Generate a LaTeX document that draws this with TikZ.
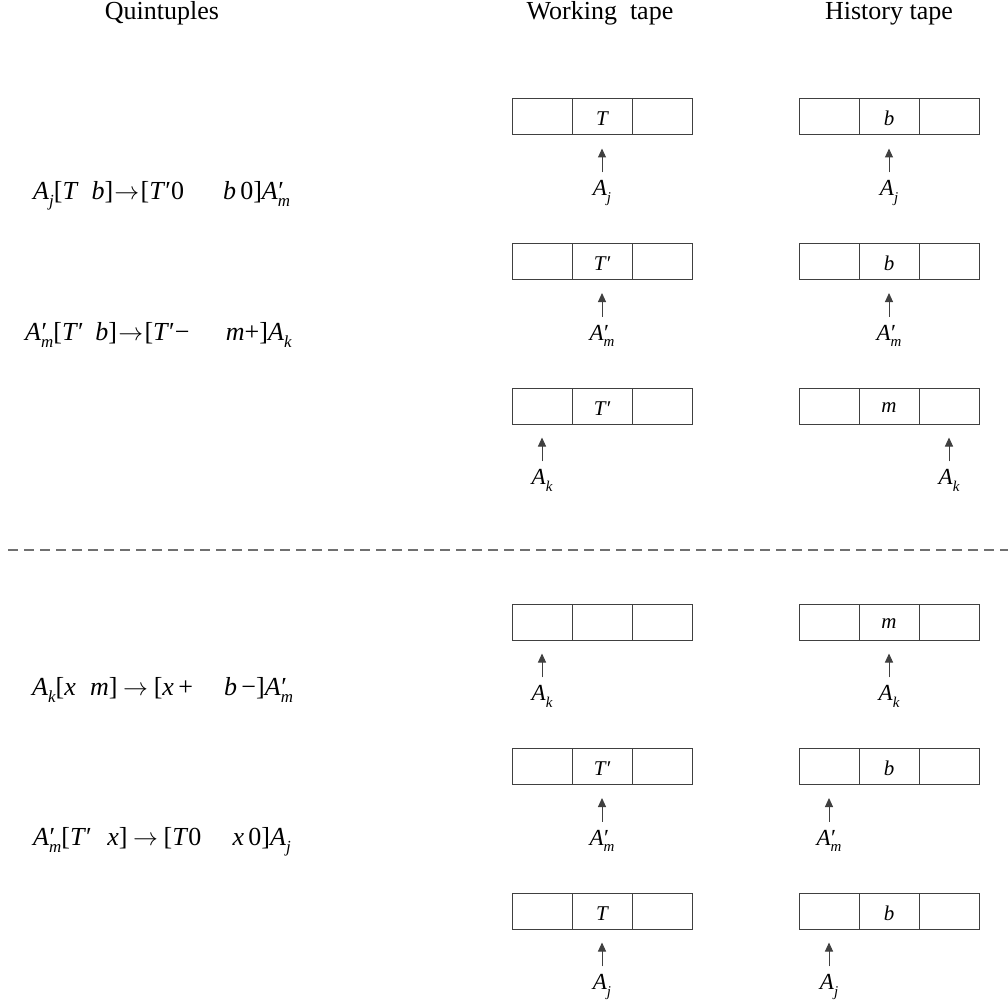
\documentclass[tikz,border=0pt]{standalone}
\usepackage{fontspec}
\setmainfont{Liberation Serif}
\usetikzlibrary{arrows.meta}
\definecolor{ink}{HTML}{404040}
\definecolor{sepgray}{HTML}{707070}

% subscript, italic, lowered
\newcommand\Sb[1]{\raisebox{-0.3em}{\fontsize{0.65em}{0.65em}\selectfont\itshape #1}}
% state names
\newcommand\Ai[1]{\textit{A}\Sb{#1}}
\newcommand\Ap[1]{\textit{A}\rlap{\kern0.02em′}\Sb{#1}}
\newcommand\Tp{\textit{T}′}
\newcommand\yields{\kern0.05em$\rightarrow$\kern0.05em}

% a tape of three cells: name, x of left cell centre, top edge, contents
\newcommand\tape[6]{%
  \node[cell] (#1a) at ({#2},{#3+18}) {#4};
  \node[cell] (#1b) at ({#2+60},{#3+18}) {#5};
  \node[cell] (#1c) at ({#2+120},{#3+18}) {#6};
}
% head label below a cell, with its arrow
\newcommand\pointer[3]{%
  \path (#2.south) ++(0,60) node[lab] (#1) {#3};
  \draw[ptr] ([yshift=7pt]#1.north) -- ([yshift=-13pt]#2.south);
}

\begin{document}
\begin{tikzpicture}[x=1pt,y=-1pt,
  cell/.style={draw=ink, line width=1pt, minimum width=60pt, minimum height=36pt,
    inner sep=0pt, text height=18pt, text depth=0pt,
    font=\fontsize{21}{21}\selectfont\itshape},
  head/.style={font=\fontsize{26}{26}\selectfont, anchor=base, inner sep=0pt},
  rule/.style={font=\fontsize{26}{26}\selectfont, anchor=base west, inner sep=0pt},
  lab/.style={font=\fontsize{23}{23}\selectfont, anchor=base, inner sep=0pt,
    text height=16pt, text depth=6pt},
  ptr/.style={draw=ink, line width=1pt, -{Triangle[length=9pt,width=8pt]}},
  sep/.style={draw=sepgray, line width=1.5pt, dash pattern=on 10pt off 6pt}
]
\useasboundingbox (0,0) rectangle (1008,1003);

% column headings
\node[head] (hq) at (162,20) {Quintuples};
\node[head] (hw) at (600,20) {Working\hspace{0.25em} tape};
\node[head] (hh) at (889,20) {History tape};

% quintuples
\node[rule] (q1) at (33,199) {\Ai{j}[\textit{T}\hspace{0.5em}\textit{b}]\yields[\Tp 0\hspace{1.5em}\textit{b}\,0]\Ap{m}};
\node[rule] (q2) at (25,340) {\Ap{m}[\Tp\hspace{0.45em}\textit{b}]\yields[\Tp−\hspace{1.4em}\textit{m}+]\Ai{k}};
\node[rule] (q3) at (32,695) {\Ai{k}[\textit{x}\hspace{0.55em}\textit{m}]\,\yields\,[\textit{x}\,+\hspace{1.2em}\textit{b}\,−]\Ap{m}};
\node[rule] (q4) at (33,845) {\Ap{m}[\Tp\hspace{0.6em}\textit{x}]\,\yields\,[\textit{T}0\hspace{1.2em}\textit{x}\,0]\Ai{j}};

% upper block
\tape{wa}{542}{99}{}{T}{}
\tape{ha}{829}{99}{}{b}{}
\pointer{la1}{wab}{\Ai{j}}
\pointer{la2}{hab}{\Ai{j}}

\tape{wb}{542}{243.5}{}{T′}{}
\tape{hb}{829}{243.5}{}{b}{}
\pointer{lb1}{wbb}{\Ap{m}}
\pointer{lb2}{hbb}{\Ap{m}}

\tape{wc}{542}{388}{}{T′}{}
\tape{hc}{829}{388}{}{\raisebox{2.5pt}{m}}{}
\pointer{lc1}{wca}{\Ai{k}}
\pointer{lc2}{hcc}{\Ai{k}}

% separator
\coordinate (sl) at (8,550);
\coordinate (sr) at (1008,550);
\draw[sep] (sl) -- (sr);

% lower block
\tape{wd}{542}{604}{}{}{}
\tape{hd}{829}{604}{}{\raisebox{2.5pt}{m}}{}
\pointer{ld1}{wda}{\Ai{k}}
\pointer{ld2}{hdb}{\Ai{k}}

\tape{we}{542}{748.5}{}{T′}{}
\tape{he}{829}{748.5}{}{b}{}
\pointer{le1}{web}{\Ap{m}}
\pointer{le2}{hea}{\Ap{m}}

\tape{wf}{542}{893}{}{T}{}
\tape{hf}{829}{893}{}{b}{}
\pointer{lf1}{wfb}{\Ai{j}}
\pointer{lf2}{hfa}{\Ai{j}}
\end{tikzpicture}
\end{document}
